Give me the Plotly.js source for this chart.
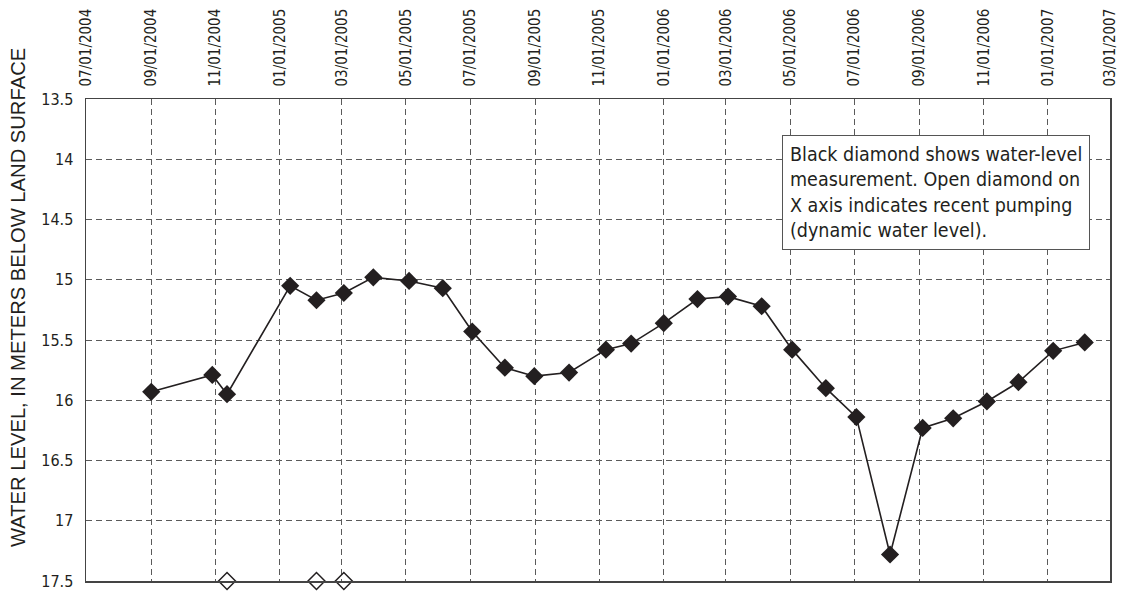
<!DOCTYPE html>
<html>
<head>
<meta charset="utf-8">
<script src="https://cdn.plot.ly/plotly-3.0.1.min.js"></script>
<style>
  html, body { margin: 0; padding: 0; background: #ffffff; }
  #chart { width: 1122px; height: 592px; }
</style>
</head>
<body>
<div id="chart"></div>
<script>
// Water-level measurements (meters below land surface)
var measureDates = [
  '2004-09-01', '2004-10-29', '2004-11-12', '2005-01-11', '2005-02-05',
  '2005-03-03', '2005-03-31', '2005-05-04', '2005-06-05', '2005-07-03',
  '2005-08-03', '2005-08-31', '2005-10-03', '2005-11-07', '2005-12-01',
  '2006-01-01', '2006-02-02', '2006-03-03', '2006-04-04', '2006-05-03',
  '2006-06-04', '2006-07-03', '2006-08-04', '2006-09-04', '2006-10-03',
  '2006-11-04', '2006-12-04', '2007-01-06', '2007-02-05'
];
var waterLevels = [
  15.93, 15.79, 15.95, 15.05, 15.17,
  15.11, 14.98, 15.01, 15.07, 15.43,
  15.73, 15.80, 15.77, 15.58, 15.53,
  15.36, 15.16, 15.14, 15.22, 15.58,
  15.90, 16.14, 17.28, 16.23, 16.15,
  16.01, 15.85, 15.59, 15.52
];
// Recent pumping (dynamic water level) shown as open diamonds on the X axis
var pumpingDates = ['2004-11-12', '2005-02-05', '2005-03-03'];
var pumpingLevels = [17.5, 17.5, 17.5];

var tickDates = [
  '2004-07-01', '2004-09-01', '2004-11-01', '2005-01-01', '2005-03-01',
  '2005-05-01', '2005-07-01', '2005-09-01', '2005-11-01', '2006-01-01',
  '2006-03-01', '2006-05-01', '2006-07-01', '2006-09-01', '2006-11-01',
  '2007-01-01', '2007-03-01'
];
var yTicks = [13.5, 14, 14.5, 15, 15.5, 16, 16.5, 17, 17.5];
var yTickLabels = ['13.5', '14', '14.5', '15', '15.5', '16', '16.5', '17', '17.5'];

var yTitle = 'WATER LEVEL, IN METERS BELOW LAND SURFACE';
var noteText = 'Black diamond shows water-level<br>measurement. Open diamond on<br>X axis indicates recent pumping<br>(dynamic water level).';

var FONT = '"DejaVu Sans Condensed", "Liberation Sans Narrow", Arial, sans-serif';
var TITLE_FONT = '"Liberation Sans", Arial, sans-serif';
var INK = '#231f20';

var traces = [
  {
    x: measureDates, y: waterLevels, type: 'scatter', mode: 'lines+markers',
    line: { color: INK, width: 1.6 },
    marker: { symbol: 'diamond', size: 14, color: INK, line: { width: 0 } },
    showlegend: false, hoverinfo: 'x+y'
  },
  {
    x: pumpingDates, y: pumpingLevels, type: 'scatter', mode: 'markers',
    marker: { symbol: 'diamond-open', size: 13, color: INK, line: { width: 1.5, color: INK } },
    cliponaxis: false, showlegend: false, hoverinfo: 'x'
  }
];

var PL = 86, PR = 1110, PT = 99, PB = 581;

var layout = {
  width: 1122, height: 592,
  margin: { l: PL, r: 1122 - PR, t: PT, b: 592 - PB, pad: 0 },
  paper_bgcolor: '#ffffff', plot_bgcolor: '#ffffff',
  font: { family: FONT, color: INK, size: 15 },
  xaxis: {
    type: 'date', side: 'top',
    range: ['2004-07-01', '2007-03-01'],
    tickmode: 'array', tickvals: tickDates, tickformat: '%m/%d/%Y',
    tickangle: -90, tickfont: { family: FONT, size: 15, color: INK },
    ticks: 'outside', ticklen: 8, tickcolor: 'rgba(0,0,0,0)',
    showgrid: true, gridcolor: '#5a5a5a', gridwidth: 1, griddash: '6px,4px',
    showline: true, linecolor: '#444444', linewidth: 1.5, mirror: true,
    zeroline: false, fixedrange: true
  },
  yaxis: {
    range: [17.5, 13.5],
    tickmode: 'array', tickvals: yTicks, ticktext: yTickLabels,
    tickfont: { family: FONT, size: 16, color: INK },
    ticks: 'outside', ticklen: 8, tickcolor: 'rgba(0,0,0,0)',
    showgrid: true, gridcolor: '#5a5a5a', gridwidth: 1, griddash: '6px,4px',
    showline: true, linecolor: '#444444', linewidth: 1.5, mirror: true,
    zeroline: false, fixedrange: true
  },
  annotations: [
    {
      xref: 'paper', yref: 'paper',
      x: (18 - PL) / (PR - PL), y: 1 - (298 - PT) / (PB - PT),
      xanchor: 'center', yanchor: 'middle', textangle: -90,
      text: yTitle, showarrow: false,
      font: { family: TITLE_FONT, size: 20.2, color: INK }
    },
    {
      xref: 'paper', yref: 'paper',
      x: (782 - PL) / (PR - PL), y: 1 - (135 - PT) / (PB - PT),
      xanchor: 'left', yanchor: 'top',
      text: noteText, showarrow: false, align: 'left',
      font: { family: FONT, size: 19.5, color: INK },
      bgcolor: '#ffffff', bordercolor: '#555555', borderwidth: 1, borderpad: 7
    }
  ]
};

Plotly.newPlot('chart', traces, layout, { displayModeBar: false, staticPlot: true });
</script>
</body>
</html>
